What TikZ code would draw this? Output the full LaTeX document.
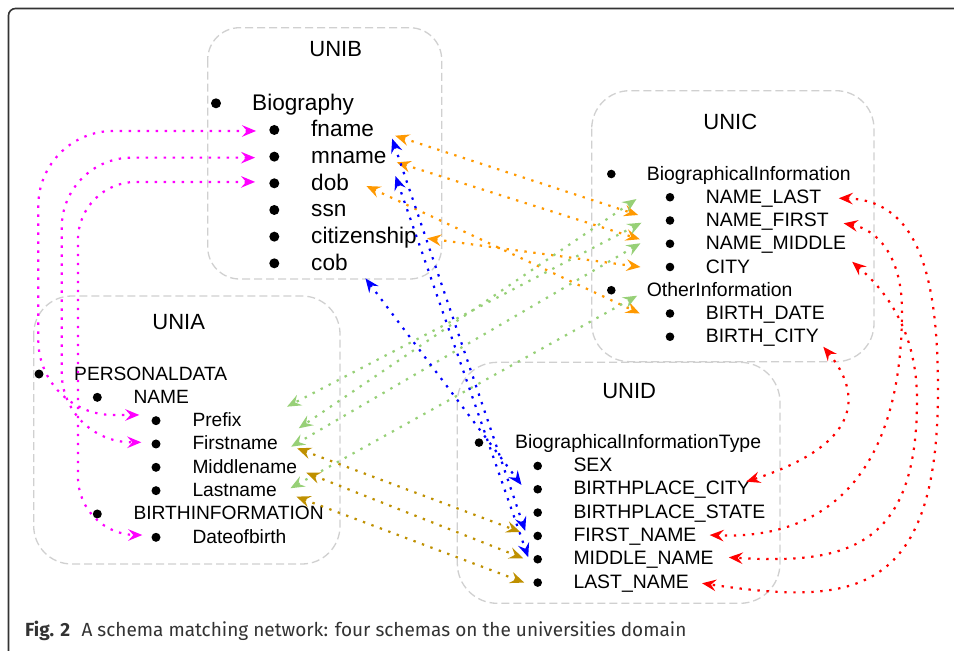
\documentclass[tikz,border=0pt]{standalone}
\usepackage{fontspec}
\setmainfont{Liberation Sans}
\newfontfamily\capfont{Fira Sans}
\usetikzlibrary{arrows.meta}
\definecolor{magc}{HTML}{FF00FF}
\definecolor{orgc}{HTML}{FF9900}
\definecolor{grnc}{HTML}{97D077}
\definecolor{bluc}{HTML}{0000FF}
\definecolor{gldc}{HTML}{BF9000}
\definecolor{redc}{HTML}{FF0000}
\definecolor{boxc}{HTML}{D0D0D0}
\definecolor{framec}{HTML}{333333}
\definecolor{capc}{HTML}{333333}
\newcommand{\sizeT}{\fontsize{22}{26}\selectfont}
\newcommand{\sizeB}{\fontsize{22.6}{27}\selectfont}
\newcommand{\sizeC}{\fontsize{19.4}{23}\selectfont}
\newcommand{\sizeA}{\fontsize{19.2}{23}\selectfont}

\begin{document}
\begin{tikzpicture}[x=1pt, y=-1pt]
  \tikzset{
    box/.style={draw=boxc, line width=1.3pt, dash pattern=on 8pt off 4pt, rounded corners=36pt},
    dot/.style={circle, fill=black, inner sep=0pt, minimum size=8.6pt},
    itm/.style={anchor=base west, inner sep=0pt},
    ttl/.style={anchor=base, inner sep=0pt, font=\sizeT},
    lnk/.style={line width=2.2pt, dash pattern=on 2.4pt off 6.6pt,
      >={Stealth[length=14pt,width=11.5pt,inset=5pt]}, <->}
  }
  \useasboundingbox (0,0) rectangle (954,651);
  \fill[white] (0,0) rectangle (954,651);
  % frame
  \draw[framec, line width=1.6pt, rounded corners=7pt] (8.5,700) -- (8.5,8.5) -- (1000,8.5);

  % schema boxes
  \draw[box, rounded corners=32pt] (207.7,27.7) rectangle (441.7,279);
  \draw[box, rounded corners=38pt] (591.7,90.7) rectangle (874,361.7);
  \draw[box, rounded corners=38pt] (33.7,296) rectangle (340,564);
  \draw[box, rounded corners=40pt] (457.3,362.3) rectangle (780,603.3);

  % UNIB
  \node[ttl] (unib) at (335.7,56) {UNIB};
  \node[dot, minimum size=10pt] (b-biography-dot) at (216,103.3) {};
  \node[itm, font=\sizeB] (b-biography) at (252,110) {Biography};
  \foreach \k/\id in {1/fname,2/mname,3/dob,4/ssn,5/citizenship,6/cob} {
    \node[dot, minimum size=10pt] (b-\id-dot) at (274.3,110+26.67*\k-6.7) {};
    \node[itm, font=\sizeB] (b-\id) at (311,110+26.67*\k) {\id};
  }

  % UNIC
  \node[ttl] (unic) at (730.3,129) {UNIC};
  \node[dot] (c-bioinfo-dot) at (611.3,174) {};
  \node[itm, font=\sizeC] (c-bioinfo) at (646.7,180) {BiographicalInformation};
  \node[dot] (c-otherinfo-dot) at (611.3,290.25) {};
  \node[itm, font=\sizeC] (c-otherinfo) at (646.7,296.25) {OtherInformation};
  \foreach \k/\id/\txt in {1/namelast/NAME\_LAST, 2/namefirst/NAME\_FIRST,
      3/namemiddle/NAME\_MIDDLE, 4/city/CITY, 6/birthdate/BIRTH\_DATE, 7/birthcity/BIRTH\_CITY} {
    \node[dot] (c-\id-dot) at (670,180+23.25*\k-6) {};
    \node[itm, font=\sizeC] (c-\id) at (705.7,180+23.25*\k) {\txt};
  }

  % UNIA
  \node[ttl] (unia) at (178.7,329.3) {UNIA};
  \node[dot, minimum size=9pt] (a-personal-dot) at (39,374) {};
  \node[itm, font=\sizeA] (a-personal) at (74,380) {PERSONALDATA};
  \foreach \k/\id/\txt in {1/name/NAME, 6/birthinfo/BIRTHINFORMATION} {
    \node[dot, minimum size=9pt] (a-\id-dot) at (97.3,380+23.33*\k-6) {};
    \node[itm, font=\sizeA] (a-\id) at (133.3,380+23.33*\k) {\txt};
  }
  \foreach \k/\id/\txt in {2/prefix/Prefix, 3/firstname/Firstname, 4/middlename/Middlename,
      5/lastname/Lastname, 7/dateofbirth/Dateofbirth} {
    \node[dot, minimum size=9pt] (a-\id-dot) at (156,380+23.33*\k-6) {};
    \node[itm, font=\sizeA] (a-\id) at (192.3,380+23.33*\k) {\txt};
  }

  % UNID
  \node[ttl] (unid) at (629.2,398.3) {UNID};
  \node[dot] (d-biotype-dot) at (479,442.6) {};
  \node[itm, font=\sizeC] (d-biotype) at (515,448.3) {BiographicalInformationType};
  \foreach \k/\id/\txt in {1/sex/SEX, 2/bpcity/BIRTHPLACE\_CITY, 3/bpstate/BIRTHPLACE\_STATE,
      4/firstname/FIRST\_NAME, 5/middlename/MIDDLE\_NAME, 6/lastname/LAST\_NAME} {
    \node[dot] (d-\id-dot) at (537.7,448.3+23.33*\k-5.7) {};
    \node[itm, font=\sizeC] (d-\id) at (573.3,448.3+23.33*\k) {\txt};
  }

  % magenta: UNIB -- UNIA
  \draw[lnk, magc, rounded corners=75pt] ([shift={(-13,1)}]b-fname-dot.west) -| (38.3,415) -- ([shift={(-12,-5.7)}]a-prefix-dot.west);
  \draw[lnk, magc, rounded corners=70pt] ([shift={(-14,1)}]b-mname-dot.west) -| (61.7,442.3) -- ([shift={(-10,-1.7)}]a-firstname-dot.west);
  \draw[lnk, magc, rounded corners=58pt] ([shift={(-14,-1.4)}]b-dob-dot.west) -| (78,535) -- ([shift={(-9,-2.3)}]a-dateofbirth-dot.west);

  % orange: UNIB -- UNIC
  \draw[lnk, orgc] ([shift={(21,-1)}]b-fname.base east) -- ([shift={(-27.4,-5.5)}]c-namefirst-dot.west);
  \draw[lnk, orgc] ([shift={(10,-1)}]b-mname.base east) -- ([shift={(-25.7,-4.5)}]c-namemiddle-dot.west);
  \draw[lnk, orgc] ([shift={(17.3,-4)}]b-dob.base east) -- ([shift={(-25.7,0)}]c-birthdate-dot.west);
  \draw[lnk, orgc] ([shift={(10.2,-5)}]b-citizenship.base east) -- ([shift={(-25,0)}]c-city-dot.west);

  % green: UNIC -- UNIA
  \draw[lnk, grnc] ([shift={(-29,1.8)}]c-namelast-dot.west) -- ([shift={(20.7,-21.7)}]a-firstname.base east);
  \draw[lnk, grnc] ([shift={(-24,2.2)}]c-namefirst-dot.west) -- ([shift={(45.3,-20)}]a-prefix.base east);
  \draw[lnk, grnc] ([shift={(-25,-0.5)}]c-namemiddle-dot.west) -- ([shift={(13.1,-3.3)}]a-firstname.base east);
  \draw[lnk, grnc] ([shift={(-28.4,-17.8)}]c-birthdate-dot.west) -- ([shift={(13.4,-8.4)}]a-lastname.base east);

  % blue: UNIB -- UNID
  \draw[lnk, bluc] ([shift={(18,2)}]b-fname.base east) -- ([shift={(-8,-5)}]d-firstname-dot.west);
  \draw[lnk, bluc] ([shift={(8.7,12.7)}]b-mname.base east) -- ([shift={(-5,-2)}]d-middlename-dot.west);
  \draw[lnk, bluc] ([shift={(17.6,8.3)}]b-cob.base east) -- ([shift={(-11.7,-4.3)}]d-bpcity-dot.west);

  % gold: UNIA -- UNID
  \draw[lnk, gldc] ([shift={(19.1,-1.7)}]a-firstname.base east) -- ([shift={(-13,-4)}]d-firstname-dot.west);
  \draw[lnk, gldc] ([shift={(9.1,-0.6)}]a-middlename.base east) -- ([shift={(-10,-1)}]d-middlename-dot.west);
  \draw[lnk, gldc] ([shift={(19.4,0)}]a-lastname.base east) -- ([shift={(-9,0)}]d-lastname-dot.west);

  % red: UNIC -- UNID
  \draw[lnk, redc] ([shift={(17.3,-5)}]c-namelast.base east) .. controls (920,200) and (938,280) .. (938,390)
    .. controls (938,600) and (850,605) .. ([shift={(13,-5)}]d-lastname.base east);
  \draw[lnk, redc] ([shift={(14.7,-3.2)}]c-namefirst.base east) .. controls (880,230) and (902,260) .. (902,310)
    .. controls (902,470) and (830,540) .. ([shift={(13.1,-6.6)}]d-firstname.base east);
  \draw[lnk, redc] ([shift={(5.9,12)}]c-namemiddle.base east) .. controls (885,290) and (917,330) .. (917,400)
    .. controls (917,545) and (850,565) .. ([shift={(14.9,-7.6)}]d-middlename.base east);
  \draw[lnk, redc] ([shift={(4.4,4)}]c-birthcity.base east) .. controls (855,385) and (875,440) .. ([shift={(-3.9,-13.3)}]d-bpcity.base east);

  % caption
  \node[anchor=base west, inner sep=0pt, text=capc, font=\capfont\fontsize{19}{22}\selectfont] (caption) at (25,636.5)
    {\textbf{Fig. 2}\hspace{0.6em}A schema matching network: four schemas on the universities domain};
\end{tikzpicture}
\end{document}
